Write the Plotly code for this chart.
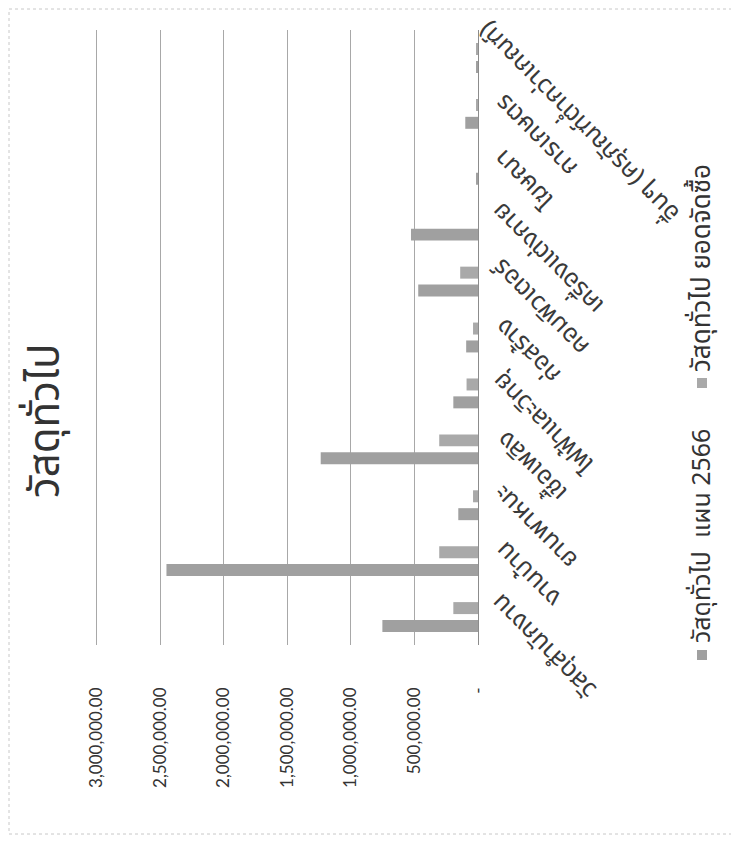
import plotly.graph_objects as go

# ---------------- data ----------------
categories = [
    "วัสดุสำนักงาน",
    "งานบ้าน",
    "ยานพาหนะ",
    "เชื้อเพลิง",
    "ไฟฟ้าและวิทยุ",
    "ก่อสร้าง",
    "คอมพิวเตอร์",
    "เครื่องแต่งกาย",
    "โฆษณา",
    "การเกษตร",
    "อื่นๆ (ครุภัณฑ์ต่ำกว่าเกณฑ์)",
]
plan_2566 = [752000, 2450000, 155000, 1237000, 194000, 93000, 470000, 527000, 15000, 100000, 15000]
purchased = [194000, 305000, 39000, 305000, 90000, 39000, 140000, 0, 0, 15000, 12000]

series_names = ["วัสดุทั่วไป  แผน 2566", "วัสดุทั่วไป ยอดจัดซื้อ"]
title_text = "วัสดุทั่วไป"
tick_values = [0, 500000, 1000000, 1500000, 2000000, 2500000, 3000000]
tick_labels = ["-", "500,000.00", "1,000,000.00", "1,500,000.00",
               "2,000,000.00", "2,500,000.00", "3,000,000.00"]

# ---------------- layout geometry ----------------
OFF = 8                      # page body offset
W, H = 739 - OFF, 843 - OFF
SL, SR, ST, SB = 95, 478, 30, 645  # plot area in screen pixels
L, R, T, B = SL - OFF, SR - OFF, ST - OFF, SB - OFF
FONT = "Noto Sans Thai, Noto Sans, Lato, sans-serif"
CAT_SIZE = 25
COMBINING = set("\u0e31\u0e34\u0e35\u0e36\u0e37\u0e38\u0e39\u0e3a\u0e47\u0e48\u0e49\u0e4a\u0e4b\u0e4c\u0e4d\u0e4e")


def px(xs):
    return (xs - SL) / (SR - SL)


def py(ys):
    return (SB - ys) / (SB - ST)


def text_width(s, size):
    w = 0.0
    for ch in s:
        if ch in COMBINING:
            continue
        if ch == " ":
            w += 0.26
        elif ch in "()":
            w += 0.30
        else:
            w += 0.44
    return w * size


fig = go.Figure()
fig.add_trace(go.Bar(y=categories, x=plan_2566, orientation="h", name=series_names[0],
                     marker=dict(color="#a0a0a0", line=dict(width=0))))
fig.add_trace(go.Bar(y=categories, x=purchased, orientation="h", name=series_names[1],
                     marker=dict(color="#a9a9a9", line=dict(width=0))))

annotations = []
# category labels: rotated so they read up-left, their end next to the baseline
END_X, END_DY = 505, 10
for c in categories:
    half = 0.354 * text_width(c, CAT_SIZE)
    annotations.append(dict(
        x=px(END_X + half), xref="paper", y=c, yref="y", yshift=END_DY - half,
        text=c, showarrow=False, textangle=-135, xanchor="center", yanchor="middle",
        font=dict(family=FONT, size=CAT_SIZE, color="#3a3a3a")))

# title
annotations.append(dict(x=px(46), y=py(421), xref="paper", yref="paper", text=title_text,
                        showarrow=False, textangle=-90, xanchor="center", yanchor="middle",
                        font=dict(family=FONT, size=42, color="#333333")))

# legend texts
annotations.append(dict(x=px(702), y=py(645), xref="paper", yref="paper", text=series_names[0],
                        showarrow=False, textangle=-90, yanchor="bottom", xanchor="center",
                        font=dict(family=FONT, size=25, color="#333333")))
annotations.append(dict(x=px(702), y=py(374), xref="paper", yref="paper", text=series_names[1],
                        showarrow=False, textangle=-90, yanchor="bottom", xanchor="center",
                        font=dict(family=FONT, size=26, color="#333333")))

shapes = [
    # legend swatches
    dict(type="rect", xref="paper", yref="paper", x0=px(697), x1=px(707), y0=py(660), y1=py(650),
         fillcolor="#a0a0a0", line=dict(width=0)),
    dict(type="rect", xref="paper", yref="paper", x0=px(697), x1=px(707), y0=py(388), y1=py(378),
         fillcolor="#a9a9a9", line=dict(width=0)),
    # chart border
    dict(type="rect", xref="paper", yref="paper", x0=px(9), x1=px(735), y0=py(834), y1=py(9),
         line=dict(color="#c8c8c8", width=1, dash="dot")),
]

fig.update_layout(
    width=W, height=H,
    margin=dict(l=L, r=W - R, t=T, b=H - B, pad=0, autoexpand=False),
    paper_bgcolor="white", plot_bgcolor="white",
    barmode="group", bargap=0.36, bargroupgap=0.33,
    showlegend=False,
    font=dict(family=FONT, color="#333333"),
    annotations=annotations,
    shapes=shapes,
    xaxis=dict(range=[3012000, 0], tickmode="array", tickvals=tick_values, ticktext=tick_labels,
               tickangle=-90, showgrid=True, gridcolor="#a8a8a8", gridwidth=1,
               zeroline=True, zerolinecolor="#8c8c8c", zerolinewidth=1,
               showline=False, ticks="", ticklabelstandoff=38, automargin=False,
               tickfont=dict(family="Lato, Open Sans, sans-serif", size=17, color="#333333")),
    yaxis=dict(range=[-0.5, 10.5], autorange=False, showticklabels=False, showgrid=False,
               zeroline=False, showline=False, ticks="", automargin=False,
               side="right", categoryorder="array", categoryarray=categories),
)

fig.write_html("out.html")
